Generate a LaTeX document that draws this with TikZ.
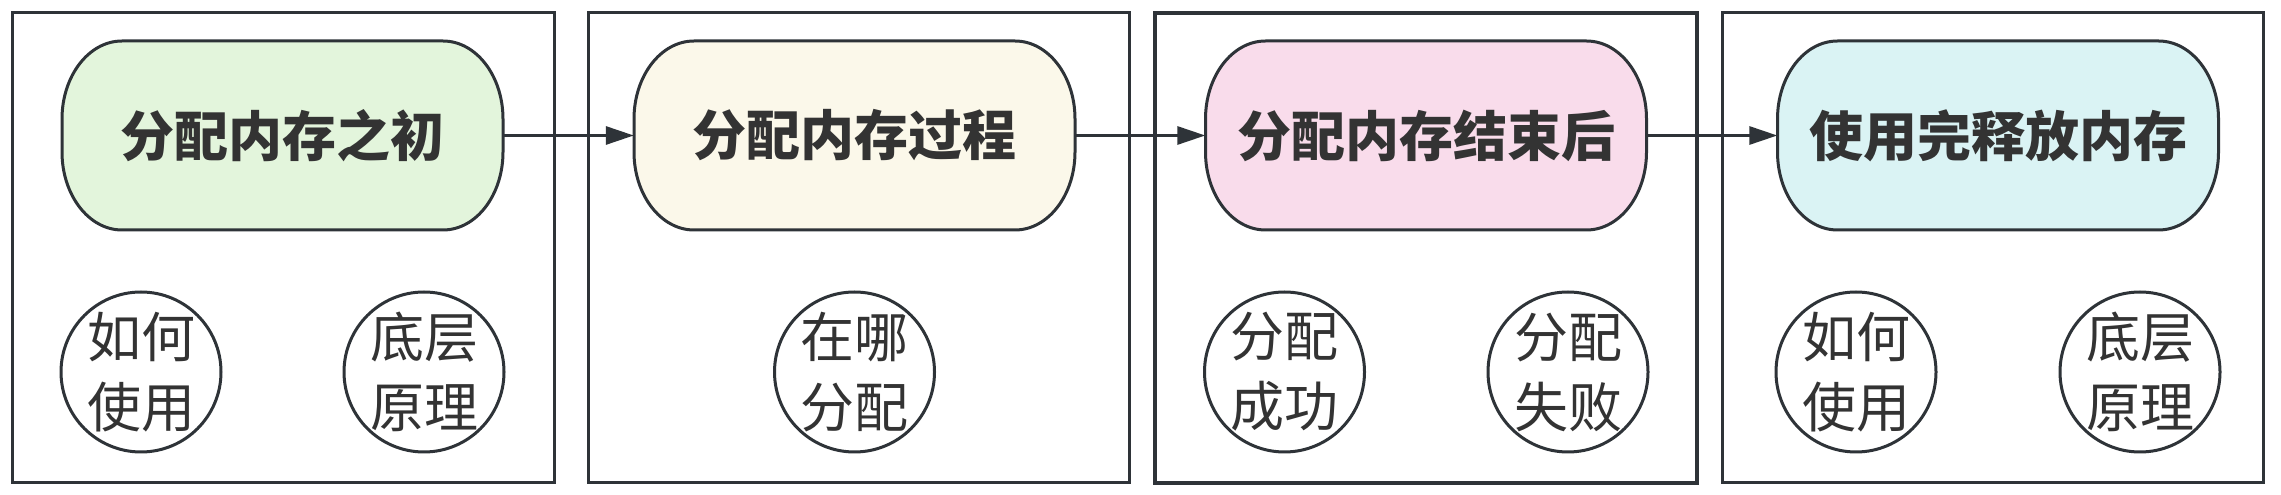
\documentclass[tikz,border=0pt]{standalone}
\usepackage{fontspec}
\newfontfamily\cjk{Noto Sans CJK SC}
\usetikzlibrary{arrows.meta}
\definecolor{ink}{HTML}{2E3338}
\definecolor{txt}{HTML}{333333}
\definecolor{pgreen}{HTML}{E3F5DC}
\definecolor{pyellow}{HTML}{FBF8EA}
\definecolor{ppink}{HTML}{F9DCEB}
\definecolor{pcyan}{HTML}{DAF3F4}
\newcommand\pillshape[3]{%
  \filldraw[pilledge, fill=#3]
    ({#1-220.5+60},{#2+94.5}) -- ({#1+220.5-60},{#2+94.5})
    arc[start angle=90, end angle=0, x radius=60, y radius=78]
    -- ({#1+220.5},{#2-94.5+78})
    arc[start angle=0, end angle=-90, x radius=60, y radius=78]
    -- ({#1-220.5+60},{#2-94.5})
    arc[start angle=270, end angle=180, x radius=60, y radius=78]
    -- ({#1-220.5},{#2+94.5-78})
    arc[start angle=180, end angle=90, x radius=60, y radius=78]
    -- cycle;}
\begin{document}
\begin{tikzpicture}[x=1pt,y=1pt,
  stagebox/.style={draw=ink, line width=3pt, minimum height=470pt, inner sep=0pt},
  pilledge/.style={draw=ink, line width=3pt},
  pilltext/.style={minimum width=441pt, minimum height=189pt, inner sep=0pt,
    text=txt, font=\cjk\bfseries\fontsize{54}{64}\selectfont},
  bubble/.style={circle, draw=ink, line width=3pt, minimum size=160pt, inner sep=-12pt,
    text=txt, align=center, font=\cjk\fontsize{54}{70}\selectfont},
  flow/.style={draw=ink, line width=3pt, -{Triangle[length=28pt,width=18pt]}}]
\useasboundingbox (0,0) rectangle (2281,495);
\fill[white] (0,0) rectangle (2281,495);
% stage frames
\node[stagebox, minimum width=542pt] (b1) at (283,247) {};
\node[stagebox, minimum width=541pt] (b2) at (858.5,247) {};
\node[stagebox, minimum width=542pt, line width=4.5pt] (b3) at (1426,247) {};
\node[stagebox, minimum width=541pt] (b4) at (1992.5,247) {};
% pills
\pillshape{282.5}{359.5}{pgreen}
\pillshape{854.5}{359.5}{pyellow}
\pillshape{1426}{359.5}{ppink}
\pillshape{1998}{359.5}{pcyan}
\node[pilltext] (p1) at (282.5,359.5) {分配内存之初};
\node[pilltext] (p2) at (854.5,359.5) {分配内存过程};
\node[pilltext] (p3) at (1426,359.5) {分配内存结束后};
\node[pilltext] (p4) at (1998,359.5) {使用完释放内存};
% arrows
\draw[flow] (p1.east) -- (p2.west);
\draw[flow] (p2.east) -- (p3.west);
\draw[flow] (p3.east) -- (p4.west);
% bubbles
\node[bubble] (c1a) at (141,123) {如何\\使用};
\node[bubble] (c1b) at (424,123) {底层\\原理};
\node[bubble] (c2a) at (854.5,123) {在哪\\分配};
\node[bubble] (c3a) at (1284.5,123) {分配\\成功};
\node[bubble] (c3b) at (1568,123) {分配\\失败};
\node[bubble] (c4a) at (1856,123) {如何\\使用};
\node[bubble] (c4b) at (2140,123) {底层\\原理};
\end{tikzpicture}
\end{document}
